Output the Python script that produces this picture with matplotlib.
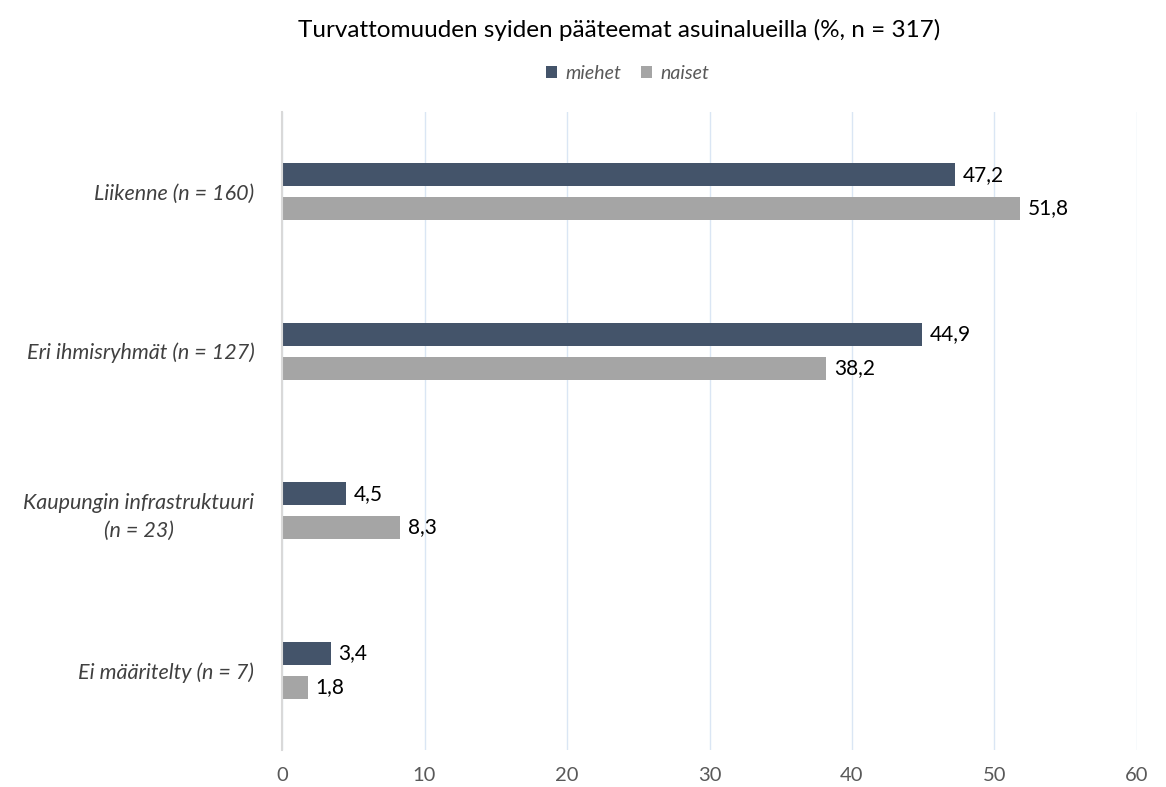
import numpy as np
import matplotlib.pyplot as plt

# Data
categories = ["Liikenne (n = 160)", "Eri ihmisryhmät (n = 127)",
              "Kaupungin infrastruktuuri\n(n = 23)", "Ei määritelty (n = 7)"]
miehet = [47.2, 44.9, 4.5, 3.4]
naiset = [51.8, 38.2, 8.3, 1.8]
xticks = [0, 10, 20, 30, 40, 50, 60]

plt.rcParams["font.family"] = ["Lato", "DejaVu Sans"]

fig = plt.figure(figsize=(11.66, 7.87), dpi=100)
ax = fig.add_axes([0.2419, 0.047, 0.7332, 0.811])

y = np.arange(len(categories))
h = 0.144
off = 0.106
b1 = ax.barh(y - off, miehet, height=h, color="#44546A", label="miehet")
b2 = ax.barh(y + off, naiset, height=h, color="#A5A5A5", label="naiset")

for bars, vals in ((b1, miehet), (b2, naiset)):
    for bar, v in zip(bars, vals):
        ax.text(bar.get_width() + 0.55, bar.get_y() + bar.get_height() / 2,
                f"{v:.1f}".replace(".", ","), va="center", ha="left",
                fontsize=15, color="#000000")

ax.set_xlim(0, 60)
ax.set_ylim(len(categories) - 0.5, -0.5)
ax.set_xticks(xticks)
ax.set_xticklabels([str(t) for t in xticks], fontsize=14.5, color="#595959")
ax.set_yticks(y)
ax.set_yticklabels(categories, fontsize=15.5, color="#404040", style="italic",
                   multialignment="center", linespacing=1.5)
ax.tick_params(axis="both", length=0)
ax.tick_params(axis="x", pad=12)
ax.tick_params(axis="y", pad=20)

ax.grid(axis="x", color="#DAE6F4", linewidth=1)
ax.set_axisbelow(True)
for s in ["top", "right", "bottom"]:
    ax.spines[s].set_visible(False)
ax.spines["left"].set_color("#D9D9D9")
ax.spines["left"].set_linewidth(1.5)

fig.text(0.531, 0.962, "Turvattomuuden syiden pääteemat asuinalueilla (%, n = 317)",
         ha="center", va="center", fontsize=17.5, color="#000000")
leg = fig.legend(handles=[b1, b2], loc="center", bbox_to_anchor=(0.538, 0.907),
                 ncol=2, frameon=False, handlelength=0.6, handleheight=0.6,
                 handletextpad=0.4, columnspacing=1.0,
                 prop={"size": 14, "style": "italic"})
for t in leg.get_texts():
    t.set_color("#595959")

fig.savefig("out.png", dpi=100)
